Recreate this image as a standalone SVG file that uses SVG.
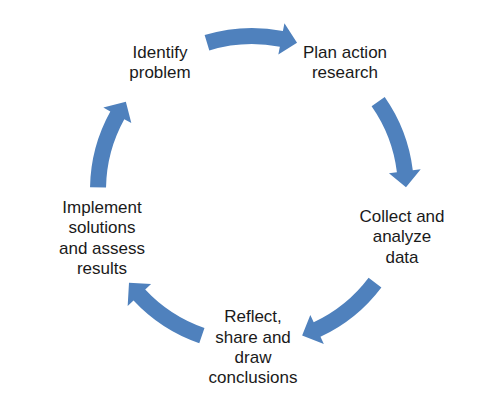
<svg xmlns="http://www.w3.org/2000/svg" xmlns:xlink="http://www.w3.org/1999/xlink" width="504" height="401" viewBox="0 0 504 401">
<style>
.arr{fill:#4F81BD;stroke:none}
.lbl{font-family:"Liberation Sans",Arial,sans-serif;font-size:17px;fill:#1a1a1a;text-anchor:middle}
</style>
<defs>
<path id="ca" class="arr" d="M154.92,-47.37 A162,162 0 0 1 159.02,30.91 L166.87,32.44 L147.27,45.03 L135.46,26.33 L143.31,27.86 A146,146 0 0 0 139.62,-42.69 Z"/>
</defs>
<rect width="504" height="401" fill="#ffffff"/>
<g id="connectors" transform="translate(252,190)">
<use xlink:href="#ca" href="#ca" transform="rotate(-90)"/>
<use xlink:href="#ca" href="#ca" transform="rotate(-18)"/>
<use xlink:href="#ca" href="#ca" transform="rotate(54)"/>
<use xlink:href="#ca" href="#ca" transform="rotate(126)"/>
<use xlink:href="#ca" href="#ca" transform="rotate(198)"/>
</g>
<g id="identify">
<text class="lbl" x="160" y="58">Identify</text>
<text class="lbl" x="160" y="78">problem</text>
</g>
<g id="plan">
<text class="lbl" x="345" y="58">Plan action</text>
<text class="lbl" x="345" y="78">research</text>
</g>
<g id="collect">
<text class="lbl" x="402" y="222">Collect and</text>
<text class="lbl" x="402" y="242">analyze</text>
<text class="lbl" x="402" y="263">data</text>
</g>
<g id="reflect">
<text class="lbl" x="253" y="322">Reflect,</text>
<text class="lbl" x="253" y="343">share and</text>
<text class="lbl" x="253" y="363">draw</text>
<text class="lbl" x="253" y="383">conclusions</text>
</g>
<g id="implement">
<text class="lbl" x="102" y="213">Implement</text>
<text class="lbl" x="102" y="233">solutions</text>
<text class="lbl" x="102" y="254">and assess</text>
<text class="lbl" x="102" y="274">results</text>
</g>
</svg>
